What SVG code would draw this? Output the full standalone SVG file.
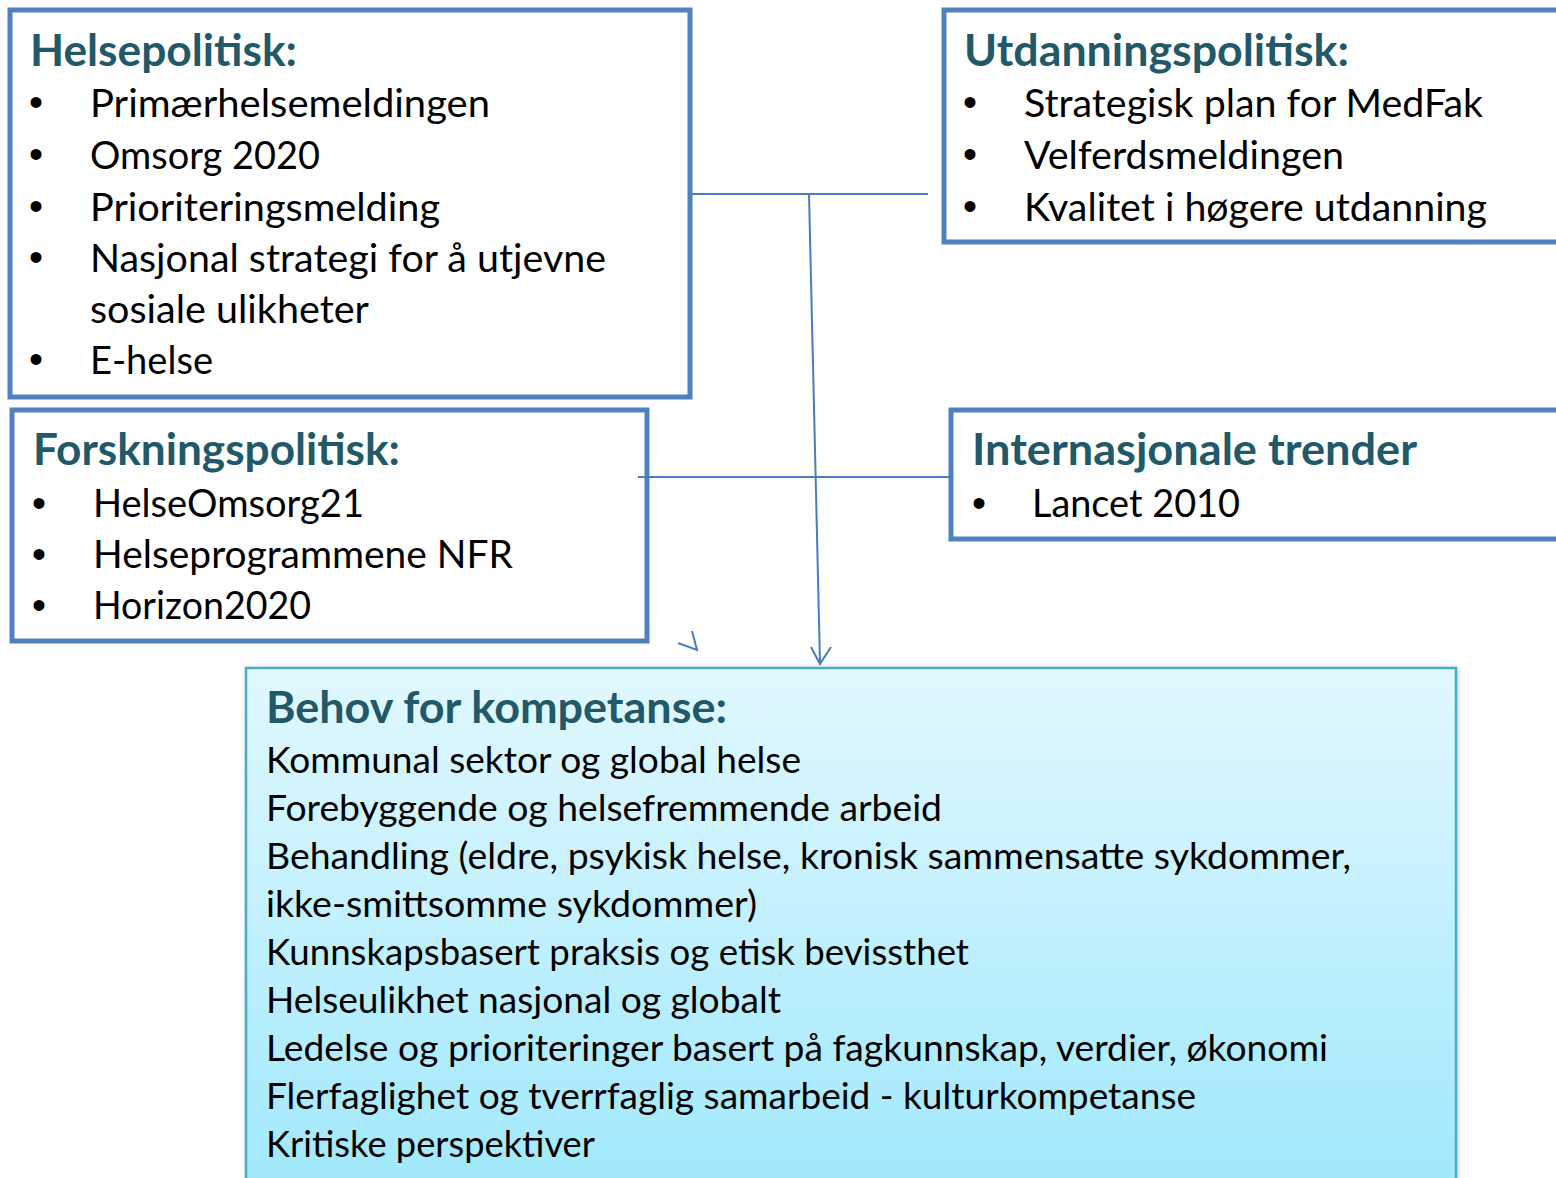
<svg xmlns="http://www.w3.org/2000/svg" width="1556" height="1178" viewBox="0 0 1556 1178">
<defs>
<linearGradient id="behovFill" x1="0" y1="0" x2="0" y2="1">
<stop offset="0" stop-color="#e2f8fe"/>
<stop offset="1" stop-color="#9fe8fc"/>
</linearGradient>
<filter id="shadow" x="-5%" y="-5%" width="110%" height="110%">
<feGaussianBlur in="SourceAlpha" stdDeviation="2"/>
<feOffset dx="1" dy="1" result="b"/>
<feFlood flood-color="#000" flood-opacity="0.25"/>
<feComposite in2="b" operator="in"/>
<feMerge><feMergeNode/><feMergeNode in="SourceGraphic"/></feMerge>
</filter>
</defs>
<style>
.box{fill:#ffffff;stroke:#4f81bd;stroke-width:5}
.behov{fill:url(#behovFill);stroke:#4bacc6;stroke-width:2.5}
.h{font-family:Lato,"Open Sans",sans-serif;font-weight:bold;font-size:44px;fill:#215968}
.t{font-family:Lato,"Open Sans",sans-serif;font-size:39px;fill:#000}
.tb{font-family:Lato,"Open Sans",sans-serif;font-size:37px;fill:#000}
.b{font-family:"Liberation Sans",sans-serif;font-size:40px;fill:#000;text-anchor:middle}
.c{fill:none;stroke:#4a7ebb;stroke-width:2}
</style>
<rect width="1556" height="1178" fill="#ffffff"/>

<g id="helsepolitisk">
<rect class="box" x="10" y="10" width="680" height="387"/>
<text class="h" x="30" y="66" textLength="267" lengthAdjust="spacingAndGlyphs">Helsepolitisk:</text>
<text class="b" x="36" y="116">•</text>
<text class="t" x="90" y="117" textLength="400" lengthAdjust="spacingAndGlyphs">Primærhelsemeldingen</text>
<text class="b" x="36" y="168">•</text>
<text class="t" x="90" y="169" textLength="230" lengthAdjust="spacingAndGlyphs">Omsorg 2020</text>
<text class="b" x="36" y="220">•</text>
<text class="t" x="90" y="221" textLength="350" lengthAdjust="spacingAndGlyphs">Prioriteringsmelding</text>
<text class="b" x="36" y="271">•</text>
<text class="t" x="90" y="272" textLength="516" lengthAdjust="spacingAndGlyphs">Nasjonal strategi for å utjevne</text>
<text class="t" x="90" y="323" textLength="279" lengthAdjust="spacingAndGlyphs">sosiale ulikheter</text>
<text class="b" x="36" y="373">•</text>
<text class="t" x="90" y="374" textLength="123" lengthAdjust="spacingAndGlyphs">E-helse</text>
</g>

<g id="utdanningspolitisk">
<rect class="box" x="944" y="10" width="620" height="232"/>
<text class="h" x="964" y="66" textLength="385" lengthAdjust="spacingAndGlyphs">Utdanningspolitisk:</text>
<text class="b" x="970" y="116">•</text>
<text class="t" x="1024" y="117" textLength="459" lengthAdjust="spacingAndGlyphs">Strategisk plan for MedFak</text>
<text class="b" x="970" y="168">•</text>
<text class="t" x="1024" y="169" textLength="320" lengthAdjust="spacingAndGlyphs">Velferdsmeldingen</text>
<text class="b" x="970" y="220">•</text>
<text class="t" x="1024" y="221" textLength="463" lengthAdjust="spacingAndGlyphs">Kvalitet i høgere utdanning</text>
</g>

<g id="forskningspolitisk">
<rect class="box" x="12" y="410" width="635" height="231"/>
<text class="h" x="33" y="465" textLength="367" lengthAdjust="spacingAndGlyphs">Forskningspolitisk:</text>
<text class="b" x="39" y="517">•</text>
<text class="t" x="93" y="517" textLength="271" lengthAdjust="spacingAndGlyphs">HelseOmsorg21</text>
<text class="b" x="39" y="568">•</text>
<text class="t" x="93" y="568" textLength="420" lengthAdjust="spacingAndGlyphs">Helseprogrammene NFR</text>
<text class="b" x="39" y="619">•</text>
<text class="t" x="93" y="619" textLength="218" lengthAdjust="spacingAndGlyphs">Horizon2020</text>
</g>

<g id="internasjonale">
<rect class="box" x="951" y="410" width="613" height="129"/>
<text class="h" x="972" y="465" textLength="445" lengthAdjust="spacingAndGlyphs">Internasjonale trender</text>
<text class="b" x="979" y="517">•</text>
<text class="t" x="1032" y="517" textLength="208" lengthAdjust="spacingAndGlyphs">Lancet 2010</text>
</g>

<g id="connectors">
<line class="c" x1="692" y1="194" x2="928" y2="194"/>
<line class="c" x1="638" y1="477" x2="950" y2="477"/>
<line class="c" x1="809" y1="194" x2="820" y2="663"/>
<polyline class="c" points="811,647 820,664 831,647"/>
<polyline class="c" points="678,643 697,650 692,631"/>
</g>

<g id="behov">
<rect class="behov" x="246" y="668" width="1210" height="530" filter="url(#shadow)"/>
<text class="h" x="266" y="723" textLength="461" lengthAdjust="spacingAndGlyphs">Behov for kompetanse:</text>
<text class="tb" x="266" y="773" textLength="535" lengthAdjust="spacingAndGlyphs">Kommunal sektor og global helse</text>
<text class="tb" x="266" y="821" textLength="676" lengthAdjust="spacingAndGlyphs">Forebyggende og helsefremmende arbeid</text>
<text class="tb" x="266" y="869" textLength="1085" lengthAdjust="spacingAndGlyphs">Behandling (eldre, psykisk helse, kronisk sammensatte sykdommer,</text>
<text class="tb" x="266" y="917" textLength="491" lengthAdjust="spacingAndGlyphs">ikke-smittsomme sykdommer)</text>
<text class="tb" x="266" y="965" textLength="703" lengthAdjust="spacingAndGlyphs">Kunnskapsbasert praksis og etisk bevissthet</text>
<text class="tb" x="266" y="1013" textLength="515" lengthAdjust="spacingAndGlyphs">Helseulikhet nasjonal og globalt</text>
<text class="tb" x="266" y="1061" textLength="1062" lengthAdjust="spacingAndGlyphs">Ledelse og prioriteringer basert på fagkunnskap, verdier, økonomi</text>
<text class="tb" x="266" y="1109" textLength="930" lengthAdjust="spacingAndGlyphs">Flerfaglighet og tverrfaglig samarbeid - kulturkompetanse</text>
<text class="tb" x="266" y="1157" textLength="329" lengthAdjust="spacingAndGlyphs">Kritiske perspektiver</text>
</g>
</svg>
